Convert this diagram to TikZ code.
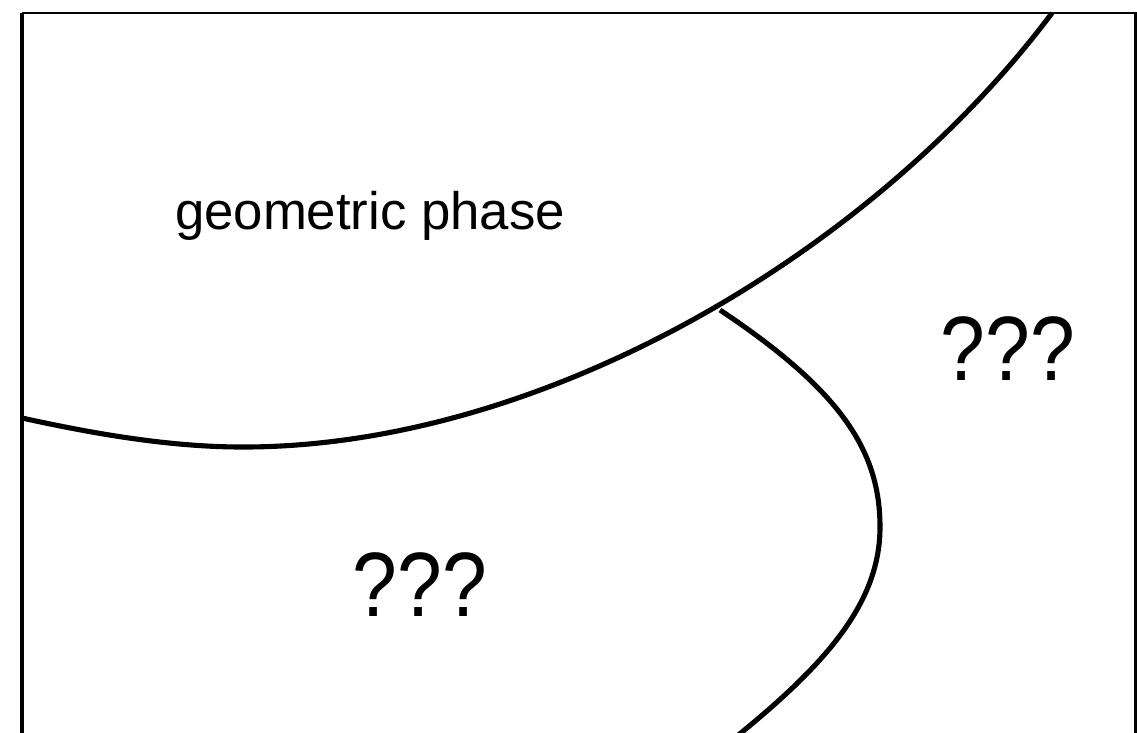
\documentclass[tikz,border=0pt]{standalone}
\usepackage{fontspec}
\setmainfont{Liberation Sans}
\usetikzlibrary{positioning}

\begin{document}
\begin{tikzpicture}[
    x=0.01cm, y=-0.01cm,
    frame/.style={draw=black, line width=1.1pt},
    boundary/.style={draw=black, line width=1.45pt},
    phaselabel/.style={font=\fontsize{15}{18}\selectfont},
    unknown/.style={font=\fontsize{26}{30}\selectfont, xscale=0.88, transform shape}
]
\useasboundingbox (0,0) rectangle (1137,732);

% Frame
\draw [frame] (22,750) -- (22,13);
\draw [frame, line width=0.6pt] (22,13) -- (1150,13);
\draw [frame] (1136,13) -- (1136,750);

% Boundaries
\coordinate (junction) at (720,310);
\draw [boundary] (22,418) .. controls (95,434) and (170,447) .. (243,447)
    .. controls (543,447) and (872,253) .. (1052,13);
\draw [boundary] (junction) .. controls (840,390) and (880,450) .. (880,527)
    .. controls (880,600) and (830,660) .. (742,732)
    -- ++(-20,16);

% Labels
\node (geom) [phaselabel] at (370,216) {geometric phase};
\node (lower) [unknown] at (420,585) {???};
\node (right) [unknown] at (1008,349) {???};

\end{tikzpicture}
\end{document}
